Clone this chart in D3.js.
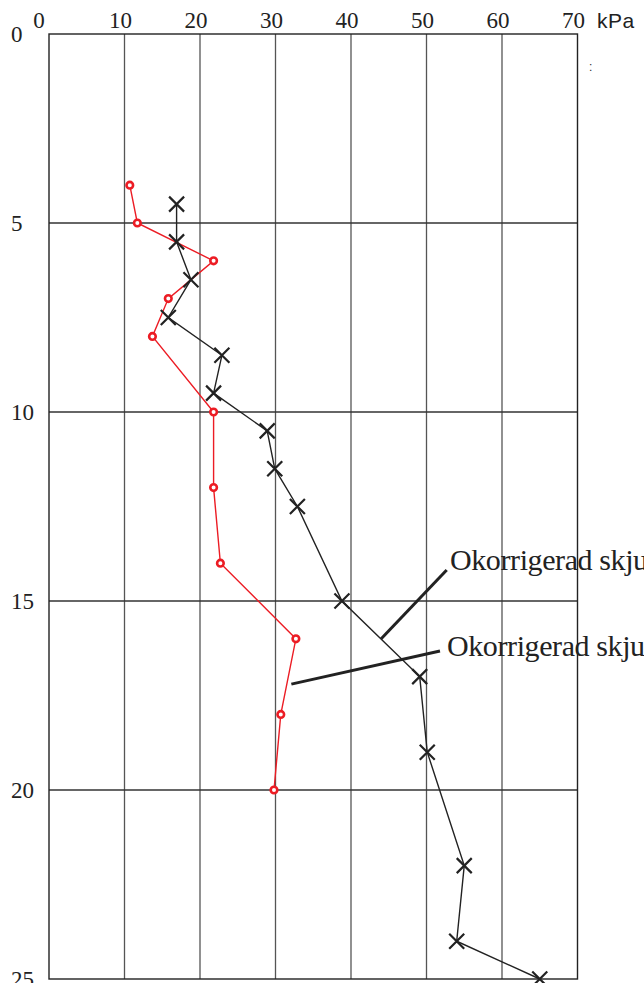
<!DOCTYPE html>
<html>
<head>
<meta charset="utf-8">
<script src="https://cdn.jsdelivr.net/npm/d3@7"></script>
<style>
  html, body { margin: 0; padding: 0; background: #fff; overflow: hidden; }
  svg { display: block; }
</style>
</head>
<body>
<div id="chart"></div>
<script>
// Uncorrected shear strength (black crosses): value kPa, depth m
const crossKpa = [16.9, 16.9, 18.8, 15.8, 22.9, 21.8, 28.9, 29.9, 32.9, 38.8, 49.1, 50.1, 55, 54, 65];
const crossDepth = [4.5, 5.5, 6.5, 7.5, 8.5, 9.5, 10.5, 11.5, 12.5, 15, 17, 19, 22, 24, 25];
// Second series (red circles)
const circleKpa = [10.7, 11.7, 21.8, 15.8, 13.7, 21.8, 21.8, 22.7, 32.7, 30.7, 29.8];
const circleDepth = [4, 5, 6, 7, 8, 10, 12, 14, 16, 18, 20];
// Axis ticks
const xTicks = [0, 10, 20, 30, 40, 50, 60, 70];
const yTicks = [0, 5, 10, 15, 20, 25];
const xUnit = "kPa";
// Annotation labels (text, anchor point on series [kPa, depth])
const labels = ["Okorrigerad skjuvhållfasthet", "Okorrigerad skjuvhållfasthet"];
const labelTargets = [[44, 16.0], [32.1, 17.2]];

const serif = "'Liberation Serif', 'Times New Roman', serif";
const sans = "'Liberation Sans', Arial, sans-serif";
const width = 644, height = 983;
const x = d3.scaleLinear().domain([0, 70]).range([49, 577.5]);
const y = d3.scaleLinear().domain([0, 25]).range([34, 979]);

const svg = d3.select("#chart").append("svg")
  .attr("width", width).attr("height", height);

/** Vertical grid lines. */
svg.append("g").selectAll("line")
  .data(xTicks.slice(1, -1))
  .join("line")
  .attr("x1", d => x(d)).attr("x2", d => x(d))
  .attr("y1", y(0)).attr("y2", y(25))
  .attr("stroke", "#555").attr("stroke-width", 1.3);

/** Horizontal grid lines. */
svg.append("g").selectAll("line")
  .data(yTicks.slice(1, -1))
  .join("line")
  .attr("x1", x(0)).attr("x2", x(70))
  .attr("y1", d => y(d)).attr("y2", d => y(d))
  .attr("stroke", "#333").attr("stroke-width", 1.3);

/** Frame. */
svg.append("rect")
  .attr("x", x(0)).attr("y", y(0))
  .attr("width", x(70) - x(0)).attr("height", y(25) - y(0))
  .attr("fill", "none").attr("stroke", "#222").attr("stroke-width", 1.4);

/** Top tick labels. */
svg.append("g").selectAll("text")
  .data(xTicks)
  .join("text")
  .attr("x", d => x(d) + (d === 0 ? -10 : -4))
  .attr("y", 28)
  .attr("text-anchor", "middle")
  .attr("font-family", serif)
  .attr("font-size", 23)
  .attr("fill", "#222")
  .text(d => d);

svg.append("text")
  .attr("x", 597).attr("y", 28)
  .attr("font-family", sans)
  .attr("font-size", 21)
  .attr("letter-spacing", 0.5)
  .attr("fill", "#222")
  .text(xUnit);

svg.append("text")
  .attr("x", 589).attr("y", 71)
  .attr("font-family", sans)
  .attr("font-size", 12)
  .attr("fill", "#333")
  .text(":");

/** Left depth labels. */
svg.append("g").selectAll("text")
  .data(yTicks)
  .join("text")
  .attr("x", 11)
  .attr("y", d => y(d))
  .attr("dy", "0.35em")
  .attr("font-family", serif)
  .attr("font-size", 23)
  .attr("fill", "#222")
  .text(d => d);

const line = d3.line().x(d => x(d[0])).y(d => y(d[1]));

/** Red circle series. */
const circlePts = circleKpa.map((v, i) => [v, circleDepth[i]]);
svg.append("path")
  .attr("d", line(circlePts))
  .attr("fill", "none").attr("stroke", "#ec1c24").attr("stroke-width", 1.4);
svg.append("g").selectAll("circle")
  .data(circlePts)
  .join("circle")
  .attr("cx", d => x(d[0])).attr("cy", d => y(d[1]))
  .attr("r", 3.3)
  .attr("fill", "#fff").attr("stroke", "#ec1c24").attr("stroke-width", 2.6);

/** Black cross series. */
const crossPts = crossKpa.map((v, i) => [v, crossDepth[i]]);
svg.append("path")
  .attr("d", line(crossPts))
  .attr("fill", "none").attr("stroke", "#222").attr("stroke-width", 1.4);
const s = 7.5;
svg.append("g").selectAll("path")
  .data(crossPts)
  .join("path")
  .attr("d", d => {
    const cx = x(d[0]), cy = y(d[1]);
    return `M${cx - s},${cy - s}L${cx + s},${cy + s}M${cx - s},${cy + s}L${cx + s},${cy - s}`;
  })
  .attr("stroke", "#222").attr("stroke-width", 2.2);

/** Leader lines and labels (cut at the right edge as in the original). */
const labelPos = [[446.7, 570, 450, 570], [440, 651, 447, 656]];
labels.forEach((t, i) => {
  const [tx, ty] = labelTargets[i];
  const [lx, ly, textX, textY] = labelPos[i];
  svg.append("line")
    .attr("x1", x(tx)).attr("y1", y(ty))
    .attr("x2", lx).attr("y2", ly)
    .attr("stroke", "#222").attr("stroke-width", 3);
  svg.append("text")
    .attr("x", textX).attr("y", textY)
    .attr("font-family", serif)
    .attr("font-size", 30)
    .attr("letter-spacing", -0.4)
    .attr("fill", "#222")
    .text(t);
});
</script>
</body>
</html>
